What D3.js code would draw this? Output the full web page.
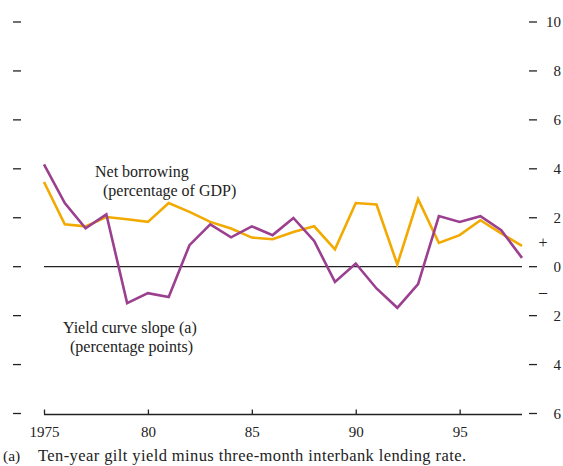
<!DOCTYPE html>
<html><head><meta charset="utf-8">
<script src="https://cdn.jsdelivr.net/npm/d3@7"></script>
<style>
body{margin:0;background:#fff;}
svg{display:block;}
text{font-family:"Liberation Serif","Times New Roman",serif;fill:#222;}
</style></head>
<body><svg id="c" width="563" height="466"></svg>
<script>
const years = d3.range(1975, 1999);
const netBorrowing = [3.46,1.73,1.65,2.03,1.94,1.83,2.6,2.24,1.83,1.56,1.19,1.12,1.42,1.65,0.71,2.6,2.54,0.09,2.76,0.97,1.29,1.9,1.36,0.85];
const yieldSlope = [4.18,2.6,1.57,2.14,-1.49,-1.08,-1.24,0.88,1.73,1.2,1.65,1.29,1.99,1.05,-0.62,0.13,-0.89,-1.68,-0.71,2.07,1.83,2.06,1.49,0.36];
const yTicks = [10,8,6,4,2,0,-2,-4,-6];
const xTicks = [1975,1980,1985,1990,1995];
const xTickLabels = ["1975","80","85","90","95"];

const svg = d3.select("#c");
const x = d3.scaleLinear().domain([1975,1998]).range([44,522]);
const y = d3.scaleLinear().domain([-6,10]).range([413.5,22]);

svg.append("g").selectAll("line").data(yTicks).join("line")
  .attr("x1",13).attr("x2",21).attr("y1",d=>y(d)).attr("y2",d=>y(d))
  .attr("stroke","#222").attr("stroke-width",1.3);
svg.append("g").selectAll("line").data(yTicks).join("line")
  .attr("x1",529).attr("x2",537).attr("y1",d=>y(d)).attr("y2",d=>y(d))
  .attr("stroke","#222").attr("stroke-width",1.3);
svg.append("g").selectAll("text").data(yTicks).join("text")
  .attr("x",561).attr("y",d=>y(d)).attr("dy","0.35em").attr("text-anchor","end")
  .attr("font-size",15).text(d=>Math.abs(d));
svg.append("text").attr("x",543).attr("y",y(1)).attr("dy","0.35em").attr("text-anchor","middle").attr("font-size",16).text("+");
svg.append("text").attr("x",543).attr("y",y(-1)).attr("dy","0.35em").attr("text-anchor","middle").attr("font-size",16).text("\u2013");

const xAxis = d3.axisBottom(x).tickValues(xTicks).tickSize(-5).tickFormat((d,i)=>xTickLabels[i]).tickPadding(12);
const gx = svg.append("g").attr("transform",`translate(0,${y(-6)+1})`).call(xAxis);
gx.select(".domain").attr("d",`M${x(1975)},0H${x(1998)}`).attr("stroke","#222").attr("stroke-width",1.3);
gx.selectAll(".tick line").attr("stroke","#222").attr("stroke-width",1.3);
gx.selectAll(".tick text").attr("font-family","Liberation Serif, serif").attr("font-size",15).attr("fill","#222");

svg.append("line").attr("x1",x(1975)).attr("x2",x(1998)).attr("y1",y(0)).attr("y2",y(0))
  .attr("stroke","#222").attr("stroke-width",1.3);

const line = d3.line().x((d,i)=>x(years[i])).y(d=>y(d));
svg.append("path").datum(netBorrowing).attr("d",line).attr("fill","none")
  .attr("stroke","#F2A900").attr("stroke-width",2.6).attr("stroke-linejoin","miter");
svg.append("path").datum(yieldSlope).attr("d",line).attr("fill","none")
  .attr("stroke","#9B3F8F").attr("stroke-width",2.6).attr("stroke-linejoin","miter");

svg.append("text").attr("x",95).attr("y",177).attr("font-size",16).text("Net borrowing");
svg.append("text").attr("x",103).attr("y",196).attr("font-size",16).text("(percentage of GDP)");
svg.append("text").attr("x",63).attr("y",333).attr("font-size",16).text("Yield curve slope (a)");
svg.append("text").attr("x",70).attr("y",352).attr("font-size",16).text("(percentage points)");
svg.append("text").attr("x",3).attr("y",461).attr("font-size",15.5).text("(a)");
svg.append("text").attr("x",38).attr("y",461).attr("font-size",16.5)
  .attr("textLength",428).attr("lengthAdjust","spacing")
  .text("Ten-year gilt yield minus three-month interbank lending rate.");
</script></body></html>
